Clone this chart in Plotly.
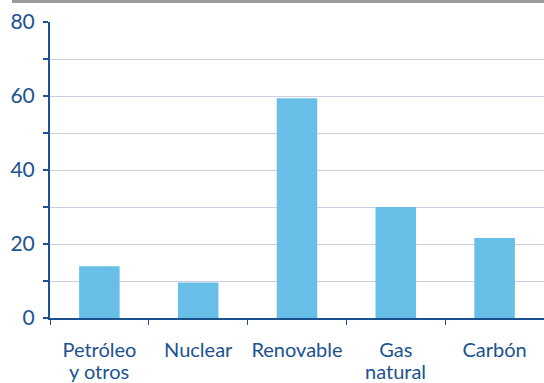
import plotly.graph_objects as go

categories = ["Petróleo y otros", "Nuclear", "Renovable", "Gas natural", "Carbón"]
label_line1 = ["Petróleo", "Nuclear", "Renovable", "Gas", "Carbón"]
label_line2 = ["y otros", "", "", "natural", ""]
values = [14.0, 9.6, 59.4, 30.0, 21.6]
y_tick_values = [0, 20, 40, 60, 80]

navy = "#1c5290"
bar_color = "#67bee6"
grid_color = "#cfcce3"
font_family = "Lato"
label_size = 20

fig = go.Figure(
    go.Bar(
        x=categories,
        y=values,
        marker=dict(color=bar_color, line=dict(width=0)),
        width=0.41,
        hoverinfo="skip",
    )
)

# second line of the two-line category labels, set tighter than <br> spacing
annotations = [
    dict(
        x=cat,
        y=0,
        xref="x",
        yref="paper",
        text=line2,
        showarrow=False,
        yanchor="top",
        yshift=-39,
        font=dict(family=font_family, size=label_size, color=navy),
    )
    for cat, line2 in zip(categories, label_line2)
    if line2
]

fig.update_layout(
    width=544,
    height=383,
    margin=dict(l=50, r=0, t=22, b=65),
    paper_bgcolor="white",
    plot_bgcolor="white",
    showlegend=False,
    font=dict(family=font_family, size=label_size, color=navy),
    xaxis=dict(
        type="category",
        tickvals=categories,
        ticktext=label_line1,
        tickangle=0,
        automargin=False,
        showline=True,
        linecolor=navy,
        linewidth=2,
        ticks="outside",
        tickson="boundaries",
        ticklen=5,
        tickcolor=navy,
        tickwidth=1,
        showgrid=False,
        ticklabelstandoff=13,
        tickfont=dict(family=font_family, size=label_size, color=navy),
    ),
    yaxis=dict(
        range=[0, 80],
        tickvals=y_tick_values,
        automargin=False,
        showline=True,
        linecolor=navy,
        linewidth=2,
        ticks="outside",
        ticklen=5,
        tickcolor=navy,
        tickwidth=2,
        showgrid=True,
        gridcolor=grid_color,
        gridwidth=1,
        zeroline=False,
        ticklabelstandoff=4,
        minor=dict(
            tickvals=[10, 30, 50, 70],
            ticks="outside",
            ticklen=5,
            tickcolor=navy,
            tickwidth=2,
            showgrid=True,
            gridcolor=grid_color,
            gridwidth=1,
        ),
        tickfont=dict(family=font_family, size=21, color=navy),
    ),
    annotations=annotations,
    shapes=[
        dict(
            type="line",
            xref="paper",
            yref="paper",
            x0=-38 / 494,
            x1=1,
            y0=1 + 20.5 / 296,
            y1=1 + 20.5 / 296,
            line=dict(color="#9b9b9b", width=3),
        )
    ],
)

fig.write_html("out.html")
